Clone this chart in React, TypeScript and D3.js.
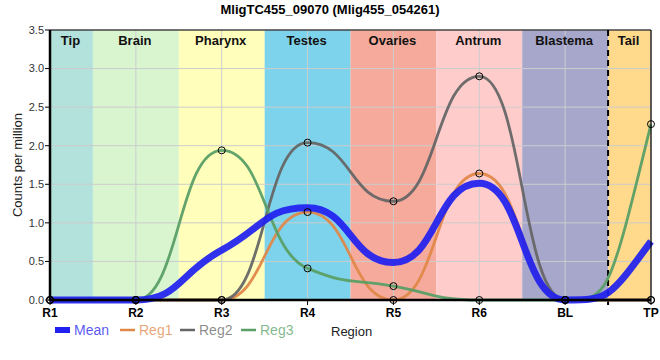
import React from "react";
import * as d3 from "d3";

const title = "MligTC455_09070 (Mlig455_054261)";
const categories = ["R1", "R2", "R3", "R4", "R5", "R6", "BL", "TP"];
const bandNames = ["Tip", "Brain", "Pharynx", "Testes", "Ovaries", "Antrum", "Blastema", "Tail"];
const bandColors = ["#b3e1dc", "#d8f5d0", "#ffffbb", "#7dd3eb", "#f5aa9c", "#ffcccc", "#a7a7cc", "#ffda8c"];
const reg1 = [0, 0, 0, 1.14, 0, 1.64, 0, 0];
const reg2 = [0, 0, 0, 2.04, 1.28, 2.9, 0, 0];
const reg3 = [0, 0, 1.94, 0.41, 0.18, 0, 0, 2.28];
const yTicks = [0, 0.5, 1, 1.5, 2, 2.5, 3, 3.5];
const seriesNames = ["Mean", "Reg1", "Reg2", "Reg3"];
const seriesColors = ["#2020f0", "#e0884a", "#666666", "#5a9f66"];

const W = 660, H = 360;
const M = { left: 50, right: 651, top: 30, bottom: 300 };
const FONT = "'Liberation Sans', Arial, sans-serif";
const SMOOTH = 0.5;

// Smooth spline: control points placed a fraction of the way along the neighbouring
// segments, shifted so the tangent passes through the point, and clamped so no
// false extrema appear.
function controlPoints(p0: number[], p1: number[], p2: number[], a: number) {
  let l1x = (1 - a) * p1[0] + a * p0[0];
  let l1y = (1 - a) * p1[1] + a * p0[1];
  let r1x = (1 - a) * p1[0] + a * p2[0];
  let r1y = (1 - a) * p1[1] + a * p2[1];
  if (l1x !== r1x) {
    const dy = p1[1] - r1y - ((p1[0] - r1x) * (l1y - r1y)) / (l1x - r1x);
    l1y += dy;
    r1y += dy;
  }
  if (l1y > p0[1] && l1y > p1[1]) {
    l1y = Math.max(p0[1], p1[1]);
    r1y = 2 * p1[1] - l1y;
  } else if (l1y < p0[1] && l1y < p1[1]) {
    l1y = Math.min(p0[1], p1[1]);
    r1y = 2 * p1[1] - l1y;
  }
  if (r1y > p1[1] && r1y > p2[1]) {
    r1y = Math.max(p1[1], p2[1]);
    l1y = 2 * p1[1] - r1y;
  } else if (r1y < p1[1] && r1y < p2[1]) {
    r1y = Math.min(p1[1], p2[1]);
    l1y = 2 * p1[1] - r1y;
  }
  return [l1x, l1y, r1x, r1y];
}

function curveSmooth(alpha: number) {
  return (context: any) => {
    let pts: number[][] = [];
    return {
      areaStart() {},
      areaEnd() {},
      lineStart() {
        pts = [];
      },
      point(x: number, y: number) {
        pts.push([+x, +y]);
      },
      lineEnd() {
        const n = pts.length;
        if (!n) return;
        context.moveTo(pts[0][0], pts[0][1]);
        let rx = pts[0][0], ry = pts[0][1];
        for (let i = 1; i < n; i++) {
          const p0 = pts[i - 1], p1 = pts[i], p2 = pts[i + 1];
          let c: number[];
          if (p2) c = controlPoints(p0, p1, p2, alpha);
          else c = [(1 - alpha) * p1[0] + alpha * p0[0], p0[1], p1[0], p1[1]];
          context.bezierCurveTo(rx, ry, c[0], c[1], p1[0], p1[1]);
          rx = c[2];
          ry = c[3];
        }
      },
    };
  };
}

export default function App() {
  const x = d3.scalePoint<string>().domain(categories).range([M.left, M.right]);
  const y = d3.scaleLinear().domain([0, 3.5]).range([M.bottom, M.top]);
  const step = x.step();
  const mean = categories.map((_, i) => (reg1[i] + reg2[i] + reg3[i]) / 3);
  const regs = [reg1, reg2, reg3];
  const line = d3
    .line<number>()
    .x((_, i) => x(categories[i]) as number)
    .y((d) => y(d))
    .curve(curveSmooth(SMOOTH) as any);

  const legendX = [55, 120, 180, 241];
  const dashX = (x("BL") as number) + step / 2;

  return (
    <svg width={W} height={H} style={{ position: "absolute", left: 0, top: 0, background: "#fff" }}>
      <text x={330} y={13.5} textAnchor="middle" fontFamily={FONT} fontWeight="bold" fontSize={13} fill="#000">
        {title}
      </text>
      {categories.map((c, i) => {
        const cx = x(c) as number;
        const x0 = Math.max(M.left, cx - step / 2);
        const x1 = Math.min(M.right, cx + step / 2);
        return <rect key={c} x={x0} y={M.top} width={x1 - x0} height={M.bottom - M.top} fill={bandColors[i]} />;
      })}
      {yTicks.map((t) => (
        <line key={t} x1={M.left} x2={M.right} y1={y(t)} y2={y(t)} stroke="#cccccc" strokeWidth={1} />
      ))}
      {categories.map((c) => (
        <line key={c} x1={x(c)} x2={x(c)} y1={M.top} y2={M.bottom} stroke="#cccccc" strokeWidth={1} />
      ))}
      {categories.map((c, i) => {
        const cx = x(c) as number;
        const x0 = Math.max(M.left, cx - step / 2);
        const x1 = Math.min(M.right, cx + step / 2);
        return (
          <text key={c} x={(x0 + x1) / 2 - 1} y={45} textAnchor="middle" fontFamily={FONT} fontWeight="bold" fontSize={13} fill="#111">
            {bandNames[i]}
          </text>
        );
      })}
      <line x1={dashX} x2={dashX} y1={M.top} y2={M.bottom + 5} stroke="#000" strokeWidth={2} strokeDasharray="6,4" />
      {regs.map((r, k) => (
        <path key={k} d={line(r) || ""} fill="none" stroke={seriesColors[k + 1]} strokeWidth={2.8} strokeOpacity={0.95} />
      ))}
      <path d={line(mean) || ""} fill="none" stroke={seriesColors[0]} strokeWidth={7} strokeOpacity={0.92} />
      <line x1={M.left} x2={M.right} y1={M.top} y2={M.top} stroke="#000" strokeWidth={1.2} />
      <line x1={M.right} x2={M.right} y1={M.top} y2={M.bottom} stroke="#000" strokeWidth={1.2} />
      <line x1={M.left} x2={M.left} y1={M.top} y2={M.bottom + 1} stroke="#000" strokeWidth={2.5} />
      <line x1={M.left - 1} x2={M.right} y1={M.bottom} y2={M.bottom} stroke="#000" strokeWidth={2.5} />
      {regs.map((r, k) =>
        r.map((v, i) => (
          <circle key={`${k}-${i}`} cx={x(categories[i])} cy={y(v)} r={3.5} fill="none" stroke="#000" strokeWidth={1} />
        ))
      )}
      {yTicks.map((t) => (
        <g key={t}>
          <line x1={M.left - 5} x2={M.left} y1={y(t)} y2={y(t)} stroke="#000" strokeWidth={1} />
          <text x={M.left - 6} y={y(t)} dy="0.35em" textAnchor="end" fontFamily={FONT} fontSize={11} fill="#333">
            {t.toFixed(1)}
          </text>
        </g>
      ))}
      {categories.map((c) => (
        <g key={c}>
          <line x1={x(c)} x2={x(c)} y1={M.bottom} y2={M.bottom + 5} stroke="#000" strokeWidth={1} />
          <text x={x(c)} y={317} textAnchor="middle" fontFamily={FONT} fontWeight="bold" fontSize={12} fill="#000">
            {c}
          </text>
        </g>
      ))}
      <text
        transform={`translate(22,${(M.top + M.bottom) / 2}) rotate(-90)`}
        textAnchor="middle"
        fontFamily={FONT}
        fontSize={13}
        fill="#222"
      >
        Counts per million
      </text>
      {seriesNames.map((n, k) => (
        <g key={n}>
          {k === 0 ? (
            <rect x={legendX[k]} y={327} width={15} height={6} fill={seriesColors[k]} />
          ) : (
            <line x1={legendX[k]} x2={legendX[k] + 15} y1={330} y2={330} stroke={seriesColors[k]} strokeWidth={2.5} />
          )}
          <text x={legendX[k] + 19} y={335} fontFamily={FONT} fontSize={14} fill={seriesColors[k]} fillOpacity={0.75}>
            {n}
          </text>
        </g>
      ))}
      <text x={331} y={336} fontFamily={FONT} fontSize={13} fill="#222">
        Region
      </text>
    </svg>
  );
}
